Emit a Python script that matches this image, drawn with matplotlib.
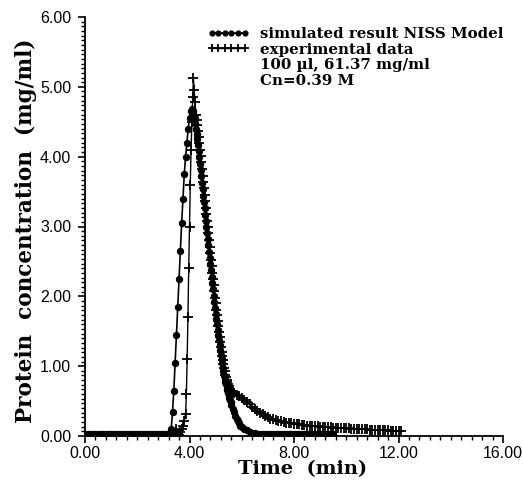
#!/usr/bin/env python3

import matplotlib
matplotlib.use("Agg")
import matplotlib.pyplot as plt
from matplotlib.lines import Line2D
from matplotlib.ticker import MultipleLocator, FormatStrFormatter

# simulated result (NISS model), time in min, concentration in mg/ml
sim_time = [
    0.0, 0.1, 0.2, 0.3, 0.4, 0.5, 0.6, 0.7, 0.8, 0.9, 1.0, 1.1, 1.2, 1.3, 1.4, 1.5, 1.6,
    1.7, 1.8, 1.9, 2.0, 2.1, 2.2, 2.3, 2.4, 2.5, 2.6, 2.7, 2.8, 2.9, 3.0, 3.1, 3.2,
    3.25, 3.3, 3.35, 3.4, 3.45, 3.5, 3.55, 3.6, 3.65, 3.7, 3.75, 3.8, 3.85, 3.9, 3.95,
    4.0, 4.05, 4.1, 4.15,
    4.2, 4.225, 4.25, 4.275, 4.3, 4.325, 4.35, 4.375, 4.4, 4.425, 4.45, 4.475, 4.5,
    4.525, 4.55, 4.575, 4.6, 4.625, 4.65, 4.675, 4.7, 4.725, 4.75, 4.775, 4.8, 4.825,
    4.85, 4.875, 4.9, 4.925, 4.95, 4.975, 5.0, 5.025, 5.05, 5.075, 5.1, 5.125, 5.15,
    5.175, 5.2, 5.225, 5.25, 5.275, 5.3, 5.325, 5.35, 5.375, 5.4, 5.425, 5.45, 5.475,
    5.5, 5.525, 5.55, 5.575, 5.6,
    5.65, 5.7, 5.75, 5.8, 5.85, 5.9, 5.95, 6.0,
    6.1, 6.2, 6.3, 6.4, 6.5, 6.6, 6.7, 6.8, 6.9, 7.0, 7.1, 7.2, 7.3, 7.4, 7.5, 7.6, 7.7,
    7.8, 7.9, 8.0, 8.1, 8.2, 8.3, 8.4, 8.5, 8.6, 8.7, 8.8, 8.9, 9.0, 9.1, 9.2, 9.3, 9.4, 9.5,
]
sim_conc = [
    0.03, 0.03, 0.03, 0.03, 0.03, 0.03, 0.03, 0.03, 0.03, 0.03, 0.03, 0.03, 0.03, 0.03,
    0.03, 0.03, 0.03, 0.03, 0.03, 0.03, 0.03, 0.03, 0.03, 0.03, 0.03, 0.03, 0.03, 0.03,
    0.03, 0.03, 0.03, 0.03, 0.03,
    0.04, 0.10, 0.35, 0.65, 1.05, 1.45, 1.85, 2.25, 2.65, 3.05, 3.40, 3.75, 4.00, 4.20,
    4.40, 4.55, 4.65, 4.68, 4.65,
    4.55, 4.48, 4.40, 4.33, 4.25, 4.17, 4.08, 3.99, 3.90, 3.81, 3.72, 3.62, 3.53,
    3.44, 3.35, 3.26, 3.17, 3.08, 3.00, 2.91, 2.82, 2.73, 2.64, 2.55, 2.46, 2.37,
    2.28, 2.19, 2.10, 2.01, 1.92, 1.83, 1.75, 1.67, 1.60, 1.52, 1.45, 1.37, 1.30,
    1.23, 1.16, 1.10, 1.04, 0.98, 0.93, 0.88, 0.83, 0.78, 0.74, 0.70, 0.66, 0.62,
    0.58, 0.54, 0.51, 0.48, 0.45,
    0.39, 0.34, 0.29, 0.25, 0.21, 0.18, 0.15, 0.13,
    0.10, 0.08, 0.06, 0.05, 0.04, 0.035, 0.03, 0.03, 0.025, 0.025, 0.025, 0.025, 0.025,
    0.025, 0.025, 0.025, 0.025, 0.025, 0.025, 0.025, 0.025, 0.025, 0.025, 0.025, 0.025,
    0.025, 0.025, 0.025, 0.025, 0.025, 0.025, 0.025, 0.025, 0.025, 0.025,
]

# experimental data
exp_time = [
    3.4, 3.45, 3.5, 3.55, 3.6, 3.65, 3.7, 3.75, 3.8, 3.85, 3.88, 3.91, 3.94, 3.97, 4.0,
    4.03, 4.06, 4.09, 4.12, 4.15, 4.18, 4.21,
    4.25, 4.275, 4.3, 4.325, 4.35, 4.375, 4.4, 4.425, 4.45, 4.475, 4.5, 4.525, 4.55,
    4.575, 4.6, 4.625, 4.65, 4.675, 4.7, 4.725, 4.75, 4.775, 4.8, 4.825, 4.85, 4.875,
    4.9, 4.925, 4.95, 4.975, 5.0, 5.025, 5.05, 5.075, 5.1, 5.125, 5.15, 5.175, 5.2,
    5.225, 5.25, 5.275, 5.3, 5.325, 5.35, 5.375, 5.4, 5.425, 5.45, 5.475, 5.5, 5.525,
    5.55, 5.575, 5.6, 5.65,
    5.7, 5.8, 5.9, 6.0, 6.1, 6.2, 6.3, 6.4, 6.5, 6.6, 6.7, 6.8, 6.9, 7.0, 7.1, 7.2, 7.3,
    7.4, 7.5, 7.6, 7.7, 7.8, 7.9, 8.0, 8.1, 8.2, 8.3, 8.4, 8.5, 8.6, 8.7, 8.8, 8.9, 9.0,
    9.1, 9.2, 9.3, 9.4, 9.5, 9.6, 9.7, 9.8, 9.9, 10.0, 10.1, 10.2, 10.3, 10.4, 10.5, 10.6,
    10.7, 10.8, 10.9, 11.0, 11.1, 11.2, 11.3, 11.4, 11.5, 11.6, 11.7, 11.8, 11.9, 12.0, 12.1,
]
exp_conc = [
    0.02, 0.05, 0.10, 0.03, 0.02, 0.06, 0.10, 0.15, 0.22, 0.32, 0.60, 1.10, 1.70, 2.40,
    3.00, 3.60, 4.10, 4.50, 4.85, 5.12, 4.95, 4.78,
    4.60, 4.53, 4.45, 4.37, 4.28, 4.19, 4.10, 4.01, 3.92, 3.83, 3.73, 3.64, 3.55,
    3.45, 3.36, 3.27, 3.18, 3.08, 2.99, 2.90, 2.80, 2.71, 2.62, 2.52, 2.43, 2.34,
    2.25, 2.16, 2.07, 1.98, 1.90, 1.81, 1.73, 1.65, 1.57, 1.49, 1.42, 1.35, 1.28,
    1.21, 1.15, 1.09, 1.03, 0.98, 0.93, 0.88, 0.84, 0.80, 0.77, 0.74, 0.71, 0.69,
    0.67, 0.65, 0.64, 0.62,
    0.61, 0.59, 0.57, 0.55, 0.52, 0.49, 0.46, 0.42, 0.39, 0.36, 0.33, 0.31, 0.29, 0.27,
    0.25, 0.24, 0.23, 0.22, 0.21, 0.20, 0.19, 0.185, 0.18, 0.175, 0.17, 0.165, 0.16,
    0.155, 0.15, 0.147, 0.144, 0.14, 0.137, 0.134, 0.131, 0.128, 0.125, 0.122, 0.12,
    0.118, 0.116, 0.114, 0.112, 0.11, 0.108, 0.106, 0.104, 0.102, 0.10, 0.098, 0.096,
    0.094, 0.092, 0.09, 0.088, 0.086, 0.085, 0.084, 0.082, 0.08, 0.078, 0.077, 0.076,
    0.075, 0.074,
]

legend_labels = [
    "simulated result NISS Model",
    "experimental data",
    "100 \u00b5l, 61.37 mg/ml",
    "Cn=0.39 M",
]


def main():
    fig = plt.figure(figsize=(5.23, 4.82), dpi=100)
    ax = fig.add_axes([85 / 523, 1 - 436 / 482, 418 / 523, 419 / 482])

    sim_line, = ax.plot(sim_time, sim_conc, color="black", lw=1.2,
                        marker="o", ms=4.3, mfc="black", mec="black")
    exp_line, = ax.plot(exp_time, exp_conc, color="black", lw=1.0,
                        marker="+", ms=6.5, mew=1.3)

    ax.set_xlim(0, 16)
    ax.set_ylim(0, 6)
    ax.xaxis.set_major_locator(MultipleLocator(4))
    ax.xaxis.set_minor_locator(MultipleLocator(0.4))
    ax.yaxis.set_major_locator(MultipleLocator(1))
    ax.yaxis.set_minor_locator(MultipleLocator(1 / 15))
    ax.xaxis.set_major_formatter(FormatStrFormatter("%.2f"))
    ax.yaxis.set_major_formatter(FormatStrFormatter("%.2f"))

    for side in ["top", "right"]:
        ax.spines[side].set_visible(False)
    for side in ["left", "bottom"]:
        ax.spines[side].set_linewidth(1.3)

    ax.tick_params(which="major", direction="out", length=5, width=1.2,
                   labelsize=11.5, labelfontfamily="Liberation Sans")
    ax.tick_params(which="minor", direction="out", length=3, width=1.0)
    ax.tick_params(axis="x", which="major", pad=2)
    ax.tick_params(axis="y", which="major", pad=5)

    ax.set_xlabel("Time  (min)", family="DejaVu Serif", weight="bold", size=14)
    ax.xaxis.set_label_coords(0.52, -0.058)
    ax.set_ylabel("Protein  concentration  (mg/ml)", family="DejaVu Serif",
                  weight="bold", size=15.5)
    ax.yaxis.set_label_coords(-0.115, 0.49)

    blank = Line2D([], [], linestyle="none")
    ax.legend([sim_line, exp_line, blank, blank], legend_labels,
              loc="upper left", bbox_to_anchor=(0.292, 0.976), frameon=False,
              numpoints=6, markerscale=0.8, handlelength=2.8, handletextpad=0.75,
              labelspacing=0.1, borderpad=0, borderaxespad=0,
              prop=dict(family="DejaVu Serif", weight="bold", size=10.8))

    fig.savefig("out.png", dpi=100)


if __name__ == "__main__":
    main()
